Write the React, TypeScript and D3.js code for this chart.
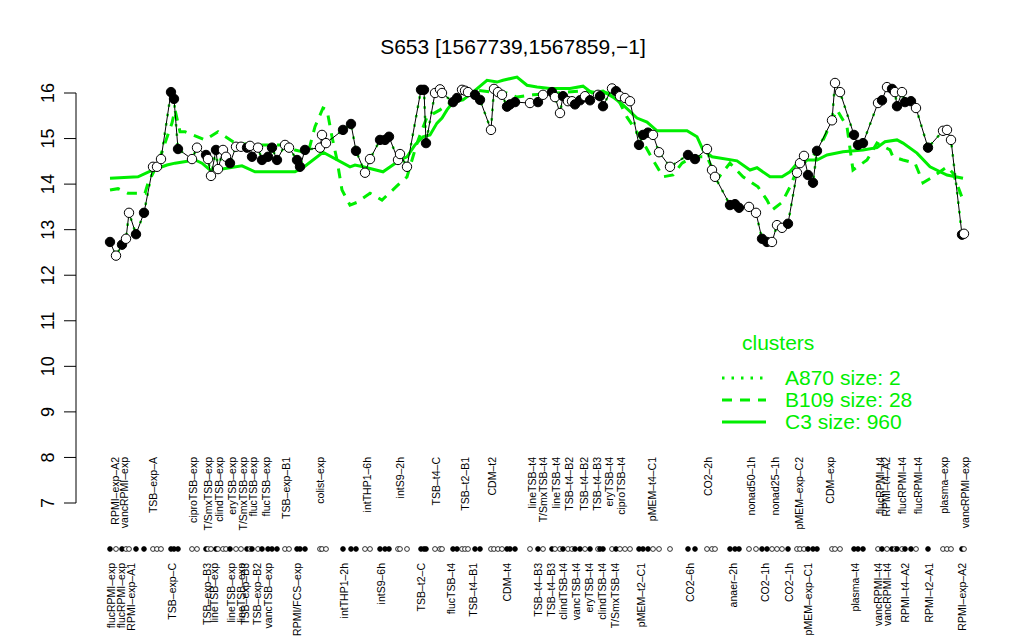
import * as d3 from "d3";
import React, { useEffect } from "react";

// sample order position, expression value, filled (1) or open (0) marker
const samplePos = [
  0, 1.5, 3, 4, 4.75, 6.5, 8.5, 10.75, 11.75, 12.75,
  15.25, 16, 17, 20.5, 21.75, 24, 24.5, 25.25, 26.5, 27,
  28.25, 29, 30, 31.5, 32.75, 34.25, 35, 35.5, 37, 38,
  39.5, 40.5, 41.75, 43.75, 44.75, 46.75, 47.5, 48.75, 52.5, 53,
  54, 58.25, 60.25, 61.5, 63.75, 65, 67.5, 68.75, 69.75, 72,
  72.5, 74.25, 77.75, 78.5, 79, 81.25, 82.5, 83, 85.75, 86.75,
  88, 88.75, 89.5, 91.25, 92.5, 95.25, 96, 97, 98, 99.25,
  100, 101.25, 105, 107, 108.25, 110.5, 111.25, 112.5, 113.25, 114.5,
  115.5, 116.25, 117.5, 118.75, 120, 122, 122.5, 123.25, 125.5, 126.5,
  127.5, 128.75, 130, 132.25, 133.25, 134.5, 135.75, 137.25, 140, 144.5,
  146.25, 149.25, 150.5, 151.25, 155, 156.25, 157.25, 159.75, 161.5, 163,
  164.25, 165.5, 166.75, 168, 169.5, 171.75, 172.5, 173.5, 174.5, 175.75,
  176.75, 180.5, 181.25, 182.5, 186, 187, 188.25, 192, 193, 194.25,
  195.5, 196.25, 196.75, 198, 198.75, 200.25, 201.5, 204.5, 208.25, 209.25,
  210.25, 213, 213.5,
];

const sampleValue = [
  12.73, 12.43, 12.67, 12.8, 13.37, 12.9, 13.37, 14.38, 14.38, 14.55,
  16.02, 15.87, 14.77, 14.55, 14.8, 14.64, 14.55, 14.18, 14.75, 14.33,
  14.75, 14.6, 14.46, 14.82, 14.82, 14.8, 14.84, 14.6, 14.8, 14.53,
  14.6, 14.8, 14.53, 14.86, 14.8, 14.53, 14.38, 14.75, 14.8, 15.08,
  14.9, 15.19, 15.32, 14.73, 14.25, 14.55, 14.97, 14.97, 15.04, 14.53,
  14.66, 14.38, 16.07, 16.07, 14.9, 16.0, 16.08, 16.0, 15.8, 15.89,
  16.07, 16.05, 16.02, 15.96, 15.85, 15.19, 16.09, 16.02, 15.96, 15.7,
  15.75, 15.8, 15.78, 15.8, 15.96, 16.02, 15.91, 15.56, 15.93, 15.82,
  15.82, 15.75, 15.84, 15.93, 15.84, 15.96, 15.93, 15.71, 16.1, 16.04,
  15.93, 15.89, 15.82, 14.86, 15.08, 15.13, 15.08, 14.7, 14.38, 14.64,
  14.55, 14.77, 14.31, 14.16, 13.54, 13.56, 13.48, 13.5, 13.37, 12.8,
  12.73, 12.73, 13.1, 13.04, 13.13, 14.25, 14.46, 14.62, 14.2, 14.03,
  14.73, 15.4, 16.22, 16.02, 15.08, 14.86, 14.9, 15.78, 15.84, 16.13,
  16.09, 16.02, 15.71, 16.02, 15.8, 15.82, 15.67, 14.8, 15.17, 15.19,
  14.97, 12.89, 12.91,
];

const sampleFilled = [
  1, 0, 1, 0, 0, 1, 1, 0, 0, 0,
  1, 1, 1, 0, 0, 1, 0, 0, 1, 0,
  0, 0, 1, 0, 0, 1, 0, 1, 0, 1,
  1, 1, 1, 0, 0, 1, 1, 1, 0, 0,
  0, 1, 1, 1, 0, 0, 1, 1, 1, 0,
  0, 0, 1, 1, 1, 0, 0, 0, 1, 1,
  0, 0, 0, 1, 1, 0, 0, 0, 0, 1,
  1, 1, 0, 1, 0, 1, 0, 0, 1, 0,
  0, 1, 1, 0, 1, 0, 1, 1, 0, 1,
  0, 0, 0, 1, 1, 1, 0, 0, 0, 1,
  1, 0, 0, 0, 1, 1, 1, 0, 0, 1,
  1, 0, 0, 0, 1, 0, 0, 0, 1, 1,
  1, 0, 0, 0, 1, 1, 1, 0, 1, 0,
  1, 0, 1, 0, 1, 1, 0, 1, 0, 0,
  0, 1, 0,
];

// cluster profiles: [position, value]
const clusterC3: [number, number][] = [
  [0, 14.13], [7, 14.16], [10.75, 14.31], [14.25, 14.42], [16.25, 14.46], [21.25, 14.53],
  [23, 14.46], [25, 14.31], [28, 14.33], [33, 14.4], [36.25, 14.27], [41.25, 14.27],
  [46.25, 14.27], [48.25, 14.36], [53.25, 14.7], [60, 14.38], [61.25, 14.42], [63.25, 14.38],
  [68.25, 14.27], [72.5, 14.53], [74.25, 14.6], [76.25, 14.86], [78.25, 15.04], [80, 15.08],
  [81.75, 15.34], [83, 15.45], [84.25, 15.63], [85.75, 15.8], [88.25, 15.85], [90.75, 16.02],
  [94.25, 16.28], [96.75, 16.24], [98.25, 16.28], [100.75, 16.33], [101.75, 16.35],
  [104.25, 16.17], [106.75, 16.13], [110, 16.1], [115, 16.1], [118.25, 16.15], [120.5, 16.0],
  [123.25, 16.04], [125.75, 15.91], [128.25, 15.74], [131.75, 15.45], [134.25, 15.36],
  [136.75, 15.17], [144.25, 15.17], [146.75, 15.04], [148.25, 14.75], [150.5, 14.6],
  [156.75, 14.51], [160, 14.31], [161.75, 14.36], [165, 14.16], [168, 14.16], [170, 14.27],
  [172.5, 14.53], [176.75, 14.53], [179.25, 14.64], [183.25, 14.71], [188.25, 14.75],
  [191.75, 14.8], [193.75, 14.93], [196.75, 14.97], [198.25, 14.9], [201.75, 14.68],
  [205, 14.38], [209.25, 14.2], [213.25, 14.13],
];

const clusterB109: [number, number][] = [
  [0, 13.87], [2, 13.9], [4.5, 13.8], [8.75, 13.8], [9.5, 14.02], [12, 14.46], [15.5, 15.34],
  [16.25, 15.63], [17.5, 15.15], [18.75, 15.15], [23.75, 14.97], [27, 15.15], [31.25, 14.9],
  [36.25, 14.86], [43, 14.86], [46.25, 14.75], [49.5, 14.68], [51.25, 15.26], [53.25, 15.67],
  [54.25, 15.63], [55.5, 15.04], [56.75, 14.53], [58, 13.87], [60, 13.54], [61.75, 13.6],
  [65, 13.8], [68, 13.65], [71.75, 13.96], [74.25, 14.16], [75.5, 14.53], [76.75, 14.9],
  [79.25, 15.47], [82.5, 15.63], [85, 15.78], [87.5, 16.0], [90.75, 16.07], [95.75, 16.02],
  [99.25, 16.0], [101.75, 15.91], [105.75, 15.96], [111.75, 16.0], [118.25, 16.05],
  [122.5, 16.0], [125.75, 16.0], [127.5, 15.78], [129.25, 15.47], [132.5, 15.04],
  [135.75, 14.53], [138.25, 14.16], [140.75, 14.2], [143, 14.46], [145.75, 14.6],
  [149.25, 14.6], [150.75, 14.31], [151.75, 14.1], [155, 14.46], [158.25, 14.16],
  [162, 13.94], [164.25, 13.65], [165.5, 13.43], [168, 13.6], [170, 13.94], [171.75, 14.31],
  [173, 14.53], [175, 14.53], [177.5, 14.82], [181.75, 15.63], [184.25, 15.26],
  [185.75, 14.31], [189.25, 14.53], [191.75, 14.9], [195, 14.75], [195.75, 14.6],
  [198.25, 14.53], [201.25, 14.46], [203.25, 14.03], [205.75, 14.16], [209.25, 14.38],
  [210.75, 14.24], [213.25, 13.65],
];

const topLabels = [
  "RPMI\u2013exp\u2013A2", "vancRPMI\u2013exp", "TSB\u2013exp\u2013A", "ciproTSB\u2013exp",
  "T/SmxTSB\u2013exp", "clindTSB\u2013exp", "eryTSB\u2013exp", "T/SmxTSB\u2013exp",
  "flucTSB\u2013exp", "flucTSB\u2013exp", "TSB\u2013exp\u2013B1", "colist\u2013exp",
  "intTHP1\u20136h", "intS9\u20132h", "TSB\u2013t4\u2013C", "TSB\u2013t2\u2013B1", "CDM\u2013t2",
  "lineTSB\u2013t4", "T/SmxTSB\u2013t4", "lineTSB\u2013t4", "TSB\u2013t4\u2013B2",
  "TSB\u2013t4\u2013B2", "TSB\u2013t4\u2013B3", "eryTSB\u2013t4", "ciproTSB\u2013t4",
  "pMEM\u2013t4\u2013C1", "CO2\u20132h", "nonad50\u20131h", "nonad25\u20131h",
  "pMEM\u2013exp\u2013C2", "CDM\u2013exp", "flucRPMI\u2013t4", "RPMI\u2013t4\u2013A2",
  "flucRPMI\u2013t4", "flucRPMI\u2013t4", "plasma\u2013exp", "vancRPMI\u2013exp",
];
const topLabelPos = [
  1.25, 3.5, 10.75, 20.75, 24.5, 27.25, 30.5, 33.25, 35.75, 39, 44, 52.5, 64.25, 72.5,
  81.5, 88.75, 95.5, 105.5, 108.25, 111.5, 114.75, 118.5, 121.75, 124.75, 127.75,
  135.5, 149.5, 160.25, 166.25, 172.25, 180, 192.5, 194, 198, 202, 208.5, 213.75,
];

const bottomLabels = [
  "flucRPMI\u2013exp", "flucRPMI\u2013exp", "RPMI\u2013exp\u2013A1", "TSB\u2013exp\u2013C",
  "TSB\u2013exp\u2013B3", "lineTSB\u2013exp", "lineTSB\u2013exp", "lineTSB\u2013exp",
  "TSB\u2013exp\u2013B3", "TSB\u2013exp\u2013B2", "vancTSB\u2013exp", "RPMI/FCS\u2013exp",
  "intTHP1\u20132h", "intS9\u20136h", "TSB\u2013t2\u2013C", "flucTSB\u2013t4", "TSB\u2013t4\u2013B1",
  "CDM\u2013t4", "TSB\u2013t4\u2013B3", "TSB\u2013t4\u2013B3", "clindTSB\u2013t4",
  "vancTSB\u2013t4", "eryTSB\u2013t4", "clindTSB\u2013t4", "T/SmxTSB\u2013t4",
  "pMEM\u2013t2\u2013C1", "CO2\u20136h", "anaer\u20132h", "CO2\u20131h", "CO2\u20131h",
  "pMEM\u2013exp\u2013C1", "plasma\u2013t4", "vancRPMI\u2013t4", "vancRPMI\u2013t4",
  "RPMI\u2013t4\u2013A2", "RPMI\u2013t2\u2013A1", "RPMI\u2013exp\u2013A2",
];
const bottomLabelPos = [
  0.25, 2.75, 5.25, 15.5, 24.25, 26, 30.25, 32.75, 33.75, 36.75, 39.5, 46.75, 58.5,
  67.75, 77.75, 85.25, 90.75, 99.25, 107, 110.25, 113.25, 116.5, 119.75, 123, 126.25,
  132.75, 145, 155.75, 163.75, 169.75, 174.5, 186.25, 192, 194.25, 198.75, 204.75, 213,
];

const yTicks = [7, 8, 9, 10, 11, 12, 13, 14, 15, 16];

const legendNames = ["A870 size: 2", "B109 size: 28", "C3 size: 960"];
const legendDash = ["2.5,7", "10,8", null];

const GREEN = "#00ee00";
const FONT = "'Liberation Sans', Arial, Helvetica, sans-serif";

const App: React.FC = () => {
  useEffect(() => {
    document.body.style.margin = "0";
  }, []);

  const width = 1024;
  const height = 640;

  const x = d3.scaleLinear().domain([0, 213.5]).range([110, 964]);
  const y = d3.scaleLinear().domain([7, 16]).range([503, 93]);

  const pts = samplePos.map((p, i) => ({ p, v: sampleValue[i], f: sampleFilled[i] }));

  const line = d3
    .line<{ p: number; v: number }>()
    .x((d) => x(d.p))
    .y((d) => y(d.v));
  const pairLine = d3
    .line<[number, number]>()
    .x((d) => x(d[0]))
    .y((d) => y(d[1]));

  const dotRowY = 549;
  const legendX = 722;
  const legendY = 378;

  return (
    <svg width={width} height={height} style={{ display: "block", background: "#fff" }} fontFamily={FONT}>
      <text x={513} y={54} textAnchor="middle" fontSize={21}>
        S653 [1567739,1567859,−1]
      </text>

      {/* y axis */}
      <line x1={76} x2={76} y1={y(16)} y2={y(7)} stroke="#000" />
      {yTicks.map((t) => (
        <g key={t}>
          <line x1={64} x2={76} y1={y(t)} y2={y(t)} stroke="#000" />
          <text
            transform={`translate(48,${y(t)}) rotate(-90)`}
            textAnchor="middle"
            dy="0.35em"
            fontSize={18}
          >
            {t}
          </text>
        </g>
      ))}

      {/* cluster profiles */}
      <path d={pairLine(clusterC3) || ""} fill="none" stroke={GREEN} strokeWidth={3} />
      <path d={pairLine(clusterB109) || ""} fill="none" stroke={GREEN} strokeWidth={3} strokeDasharray="10,8" />
      <path d={line(pts) || ""} fill="none" stroke={GREEN} strokeWidth={2.5} strokeDasharray="2.5,7" />

      {/* sample profile */}
      <path d={line(pts) || ""} fill="none" stroke="#000" strokeWidth={1} />
      {pts.map((d, i) => (
        <circle
          key={i}
          cx={x(d.p)}
          cy={y(d.v)}
          r={4.7}
          fill={d.f ? "#000" : "#fff"}
          stroke="#000"
          strokeWidth={1}
        />
      ))}

      {/* sample row */}
      {pts.map((d, i) => (
        <circle
          key={`r${i}`}
          cx={x(d.p)}
          cy={dotRowY}
          r={2.4}
          fill={d.f ? "#000" : "#fff"}
          stroke="#000"
          strokeWidth={0.8}
        />
      ))}

      {topLabels.map((s, i) => (
        <text
          key={`t${i}`}
          transform={`translate(${x(topLabelPos[i])},457) rotate(-90)`}
          textAnchor="end"
          dy="0.35em"
          fontSize={10.5}
        >
          {s}
        </text>
      ))}
      {bottomLabels.map((s, i) => (
        <text
          key={`b${i}`}
          transform={`translate(${x(bottomLabelPos[i])},563) rotate(-90)`}
          textAnchor="end"
          dy="0.35em"
          fontSize={10.5}
        >
          {s}
        </text>
      ))}

      {/* legend */}
      <text x={742} y={350} fontSize={21} fill={GREEN}>
        clusters
      </text>
      {legendNames.map((n, i) => (
        <g key={n}>
          <line
            x1={legendX}
            x2={legendX + 44}
            y1={legendY + i * 22}
            y2={legendY + i * 22}
            stroke={GREEN}
            strokeWidth={3}
            strokeDasharray={legendDash[i] || undefined}
          />
          <text x={785} y={legendY + i * 22} dy="0.35em" fontSize={21} fill={GREEN}>
            {n}
          </text>
        </g>
      ))}
    </svg>
  );
};

export default App;
